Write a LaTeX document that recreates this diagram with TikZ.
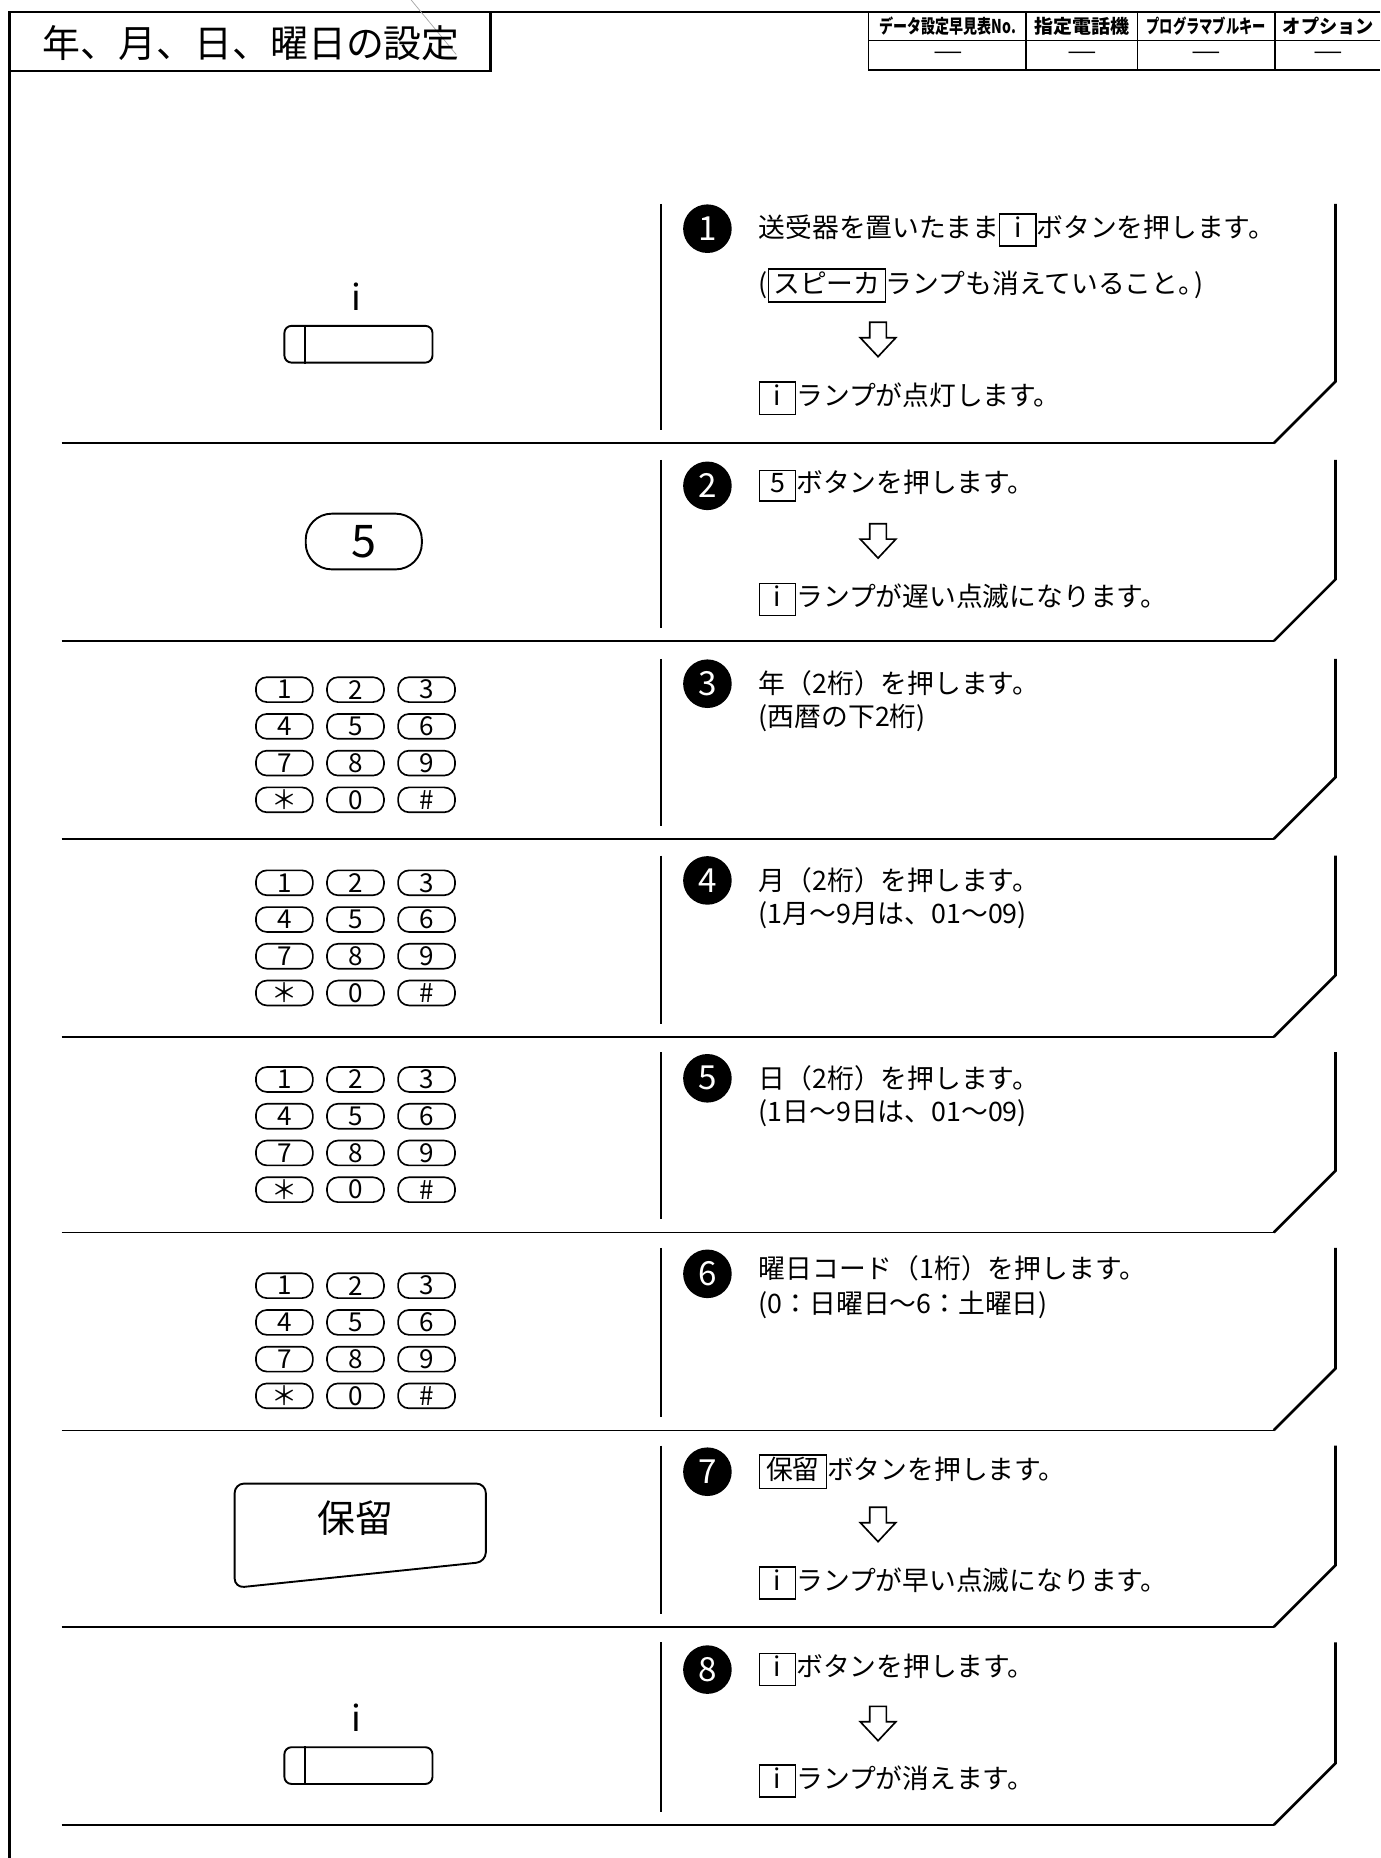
\documentclass[tikz,border=0pt]{standalone}
\usepackage{fontspec}
\setmainfont{Noto Sans CJK JP}
\usepackage{graphicx}
\newcommand{\kbox}[2]{{\setlength{\fboxsep}{0.8pt}\setlength{\fboxrule}{0.6pt}\fbox{\makebox[#1]{\rule[-2.6pt]{0pt}{10.4pt}#2}}}}
\tikzset{
  frameline/.style={line width=1pt},
  thinline/.style={line width=0.6pt},
  sepline/.style={line width=0.6pt},
  edgeline/.style={line width=1.1pt},
  midline/.style={line width=0.9pt},
  stepnum/.style={circle, fill=black, minimum size=20.5pt, inner sep=0pt, text=white, font=\fontsize{14}{14}\selectfont},
  steptext/.style={anchor=west, inner sep=0pt, font=\fontsize{11.3}{13}\selectfont},
  headtext/.style={inner sep=0pt, font=\bfseries\fontsize{8}{8}\selectfont},
  keypill/.style={draw, line width=0.7pt, rounded corners=4.6pt, minimum width=24pt, minimum height=10.5pt, inner sep=0pt, font=\fontsize{11}{11}\selectfont},
  ibutton/.style={draw, line width=0.8pt, rounded corners=3pt, minimum width=62.5pt, minimum height=15.5pt, inner sep=0pt},
  fivepill/.style={draw, line width=0.8pt, rounded corners=11pt, minimum width=49pt, minimum height=23.5pt, inner sep=0pt, font=\fontsize{19}{19}\selectfont},
  downarr/.pic={\draw[line width=0.7pt] (-7,-15) -- (7,-15) -- (7,-2) -- (15,-2) -- (0,14) -- (-15,-2) -- (-7,-2) -- cycle;}
}
\begin{document}
\begin{tikzpicture}[x=0.5pt,y=-0.5pt]
\useasboundingbox (0,0) rectangle (1165,1568);
% page frame
\coordinate (ftl) at (8,10);
\coordinate (ftr) at (1165,10);
\coordinate (fbl) at (8,1568);
\draw[frameline] (ftr) -- (ftl) -- (fbl);
\draw[gray!70, line width=0.3pt] (347,0) -- (385,46);
% title box
\coordinate (tbr) at (414,60);
\draw[frameline] (414,10) -- (tbr) -- (8,60);
\node[inner sep=0pt, font=\fontsize{16}{16}\selectfont] (title) at (212,36) {年、月、日、曜日の設定};
% header table
\draw[thinline] (733,10) -- (733,59) -- (1165,59);
\draw[thinline] (733,34) -- (1165,34);
\foreach \cx in {866,960,1076} \draw[thinline] (\cx,10) -- (\cx,59);
\node[headtext] (h1) at (800,22) {\scalebox{0.74}[1]{データ設定早見表No.}};
\node[headtext] (h2) at (913,22) {指定電話機};
\node[headtext] (h3) at (1018,22) {\scalebox{0.70}[1]{プログラマブルキー}};
\node[headtext] (h4) at (1121,22) {\scalebox{0.96}[1]{オプション}};
\foreach \cx/\nm in {800/d1,913/d2,1018/d3,1121/d4}
  \node[inner sep=0pt, font=\fontsize{10}{10}\selectfont] (\nm) at (\cx,47) {\scalebox{1.4}[1]{—}};
% step frames
\foreach \s/\t in {374/172, 541/388, 708/556, 875/722, 1040/888, 1207/1053, 1373/1220, 1540/1386} {
  \draw[sepline] (52,\s) -- (1075,\s);
  \draw[edgeline] (1075,\s) -- (1127,\s-52) -- (1127,\t);
  \draw[midline] (558,\t) -- (558,\s-11);
}
% step numbers
\foreach \yy/\n in {193/1, 410/2, 577/3, 743/4, 910/5, 1075/6, 1242/7, 1409/8}
  \node[stepnum] (n\n) at (597,\yy) {\n};
% step texts
\node[steptext] (t1a) at (640,194) {送受器を置いたまま\kbox{13pt}{i}ボタンを押します。};
\node[steptext] (t1b) at (640,241) {(\kbox{47pt}{スピーカ}ランプも消えていること。\kern-0.4em)};
\pic at (741,287) {downarr};
\node[steptext] (t1c) at (640,336) {\kbox{13pt}{i}ランプが点灯します。};
\node[steptext] (t2a) at (640,410) {\kbox{13pt}{5}ボタンを押します。};
\pic at (741,457) {downarr};
\node[steptext] (t2b) at (640,506) {\kbox{13pt}{i}ランプが遅い点滅になります。};
\node[steptext] (t3a) at (640,577) {年（2桁）を押します。};
\node[steptext] (t3b) at (640,606) {(西暦の下2桁)};
\node[steptext] (t4a) at (640,743) {月（2桁）を押します。};
\node[steptext] (t4b) at (640,772) {(1月～9月は、01～09)};
\node[steptext] (t5a) at (640,910) {日（2桁）を押します。};
\node[steptext] (t5b) at (640,939) {(1日～9日は、01～09)};
\node[steptext] (t6a) at (640,1070) {曜日コード（1桁）を押します。};
\node[steptext] (t6b) at (640,1101) {(0：日曜日～6：土曜日)};
\node[steptext] (t7a) at (640,1242) {\kbox{26pt}{保留}ボタンを押します。};
\pic at (741,1287) {downarr};
\node[steptext] (t7b) at (640,1336) {\kbox{13pt}{i}ランプが早い点滅になります。};
\node[steptext] (t8a) at (640,1409) {\kbox{13pt}{i}ボタンを押します。};
\pic at (741,1455) {downarr};
\node[steptext] (t8b) at (640,1503) {\kbox{13pt}{i}ランプが消えます。};
% step 1 figure
\node[inner sep=0pt, font=\fontsize{15}{15}\selectfont] (il1) at (301,250) {i};
\node[ibutton] (ib1) at (302.5,290.5) {};
\draw[line width=0.8pt] ([xshift=9pt]ib1.north west) -- ([xshift=9pt]ib1.south west);
% step 2 figure
\node[fivepill] (five) at (307,457) {5};
% keypads
\foreach \base/\st in {582/3, 745/4, 911/5, 1085/6} {
  \foreach \r/\a/\b/\c in {0/1/2/3, 1/4/5/6, 2/7/8/9} {
    \node[keypill] (k\st-\a) at (240,\base+31*\r) {\a};
    \node[keypill] (k\st-\b) at (300,\base+31*\r) {\b};
    \node[keypill] (k\st-\c) at (360,\base+31*\r) {\c};
  }
  \node[keypill] (k\st-star) at (240,\base+93) {＊};
  \node[keypill] (k\st-0) at (300,\base+93) {0};
  \node[keypill] (k\st-hash) at (360,\base+93) {\#};
}
% step 7 figure
\coordinate (hb1) at (198,1252);
\coordinate (hb2) at (410,1252);
\coordinate (hb3) at (410,1318);
\coordinate (hb4) at (198,1340);
\draw[line width=0.8pt, rounded corners=4pt] (hb1) -- (hb2) -- (hb3) -- (hb4) -- cycle;
\node[inner sep=0pt, font=\fontsize{16}{16}\selectfont] (holdlabel) at (300,1281) {保留};
% step 8 figure
\node[inner sep=0pt, font=\fontsize{15}{15}\selectfont] (il8) at (301,1450) {i};
\node[ibutton] (ib8) at (302.5,1490) {};
\draw[line width=0.8pt] ([xshift=9pt]ib8.north west) -- ([xshift=9pt]ib8.south west);
\end{tikzpicture}
\end{document}
